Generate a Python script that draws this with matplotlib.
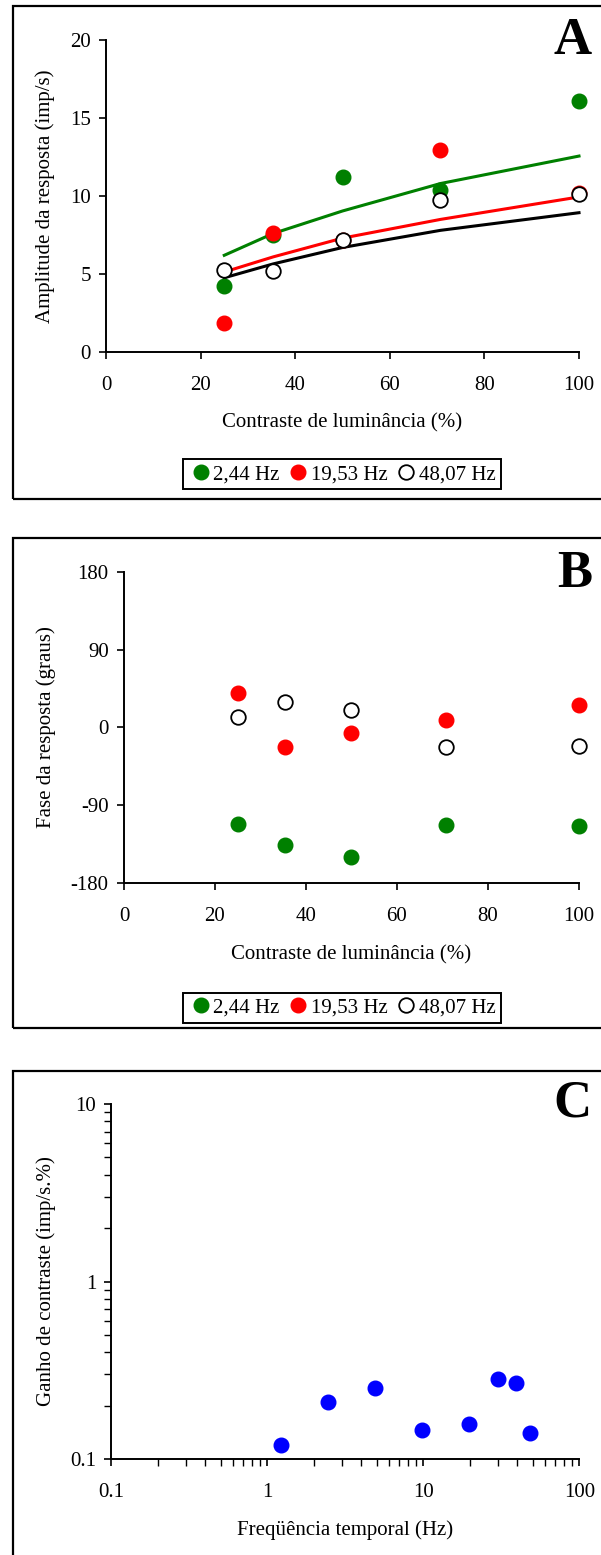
import numpy as np
import matplotlib
matplotlib.use("Agg")
import matplotlib.pyplot as plt
from matplotlib.patches import Rectangle
from matplotlib.lines import Line2D

plt.rcParams['font.family'] = ['Liberation Serif', 'DejaVu Serif']
plt.rcParams['axes.unicode_minus'] = False

# Contrastes usados (%)
contraste = [25, 35.36, 50, 70.71, 100]

# A: amplitude da resposta (imp/s)
amp_244 = [4.23, 7.52, 11.2, 10.4, 16.1]
amp_1953 = [1.84, 7.6, 7.2, 12.95, 10.2]
amp_4807 = [5.23, 5.19, 7.15, 9.77, 10.1]
# curvas ajustadas
ajuste_244 = [6.2, 7.6, 9.04, 10.8, 12.56]
ajuste_1953 = [5.13, 6.1, 7.3, 8.5, 9.94]
ajuste_4807 = [4.76, 5.65, 6.7, 7.8, 8.93]

# B: fase da resposta (graus)
fase_244 = [-112, -136, -150, -113, -114]
fase_1953 = [40, -23, -7, 9, 26]
fase_4807 = [12, 29, 20, -23, -21]

# C: ganho de contraste por frequência temporal
freq = [1.22, 2.44, 4.88, 9.77, 19.53, 30.1, 39.06, 48.07]
ganho = [0.12, 0.21, 0.252, 0.146, 0.157, 0.282, 0.267, 0.14]

verde = '#008000'
vermelho = '#ff0000'
azul = '#0000ff'
FS = 15
MS = 10.5

fig = plt.figure(figsize=(6.01, 15.55), dpi=100)

# molduras de cada painel
for (y0, y1) in [(0.679, 0.9961), (0.339, 0.654), (-0.05, 0.3113)]:
    fig.patches.append(Rectangle((0.021, y0), 1.0, y1 - y0, transform=fig.transFigure,
                                 fill=False, edgecolor='black', linewidth=1.6))


def estilo(ax):
    ax.spines['top'].set_visible(False)
    ax.spines['right'].set_visible(False)
    for s in ['left', 'bottom']:
        ax.spines[s].set_linewidth(1.4)
    ax.tick_params(axis='both', which='major', direction='out', length=5, width=1.2, labelsize=FS)
    ax.tick_params(axis='x', pad=12)
    ax.tick_params(axis='y', pad=6)


def legenda(ax, y):
    h = [Line2D([], [], marker='o', ls='none', color=verde, ms=MS),
         Line2D([], [], marker='o', ls='none', color=vermelho, ms=MS),
         Line2D([], [], marker='o', ls='none', mfc='white', mec='black', mew=1.3, ms=MS)]
    leg = fig.legend(h, ['2,44 Hz', '19,53 Hz', '48,07 Hz'], loc='center',
                     bbox_to_anchor=(0.569, y), ncol=3, fontsize=FS, frameon=True,
                     fancybox=False, framealpha=1, edgecolor='black',
                     handletextpad=0.0, columnspacing=0.3, handlelength=1.2,
                     borderpad=0.25, borderaxespad=0)
    leg.get_frame().set_linewidth(1.4)


# Painel A
axA = fig.add_axes([0.1764, 0.7736, 0.787, 0.2007])
axA.plot(contraste, ajuste_244, color=verde, lw=2.2, zorder=2)
axA.plot(contraste, ajuste_1953, color=vermelho, lw=2.2, zorder=2)
axA.plot(contraste, ajuste_4807, color='black', lw=2.2, zorder=2)
axA.plot(contraste, amp_244, 'o', color=verde, ms=MS, zorder=3)
axA.plot(contraste, amp_1953, 'o', color=vermelho, ms=MS, zorder=3)
axA.plot(contraste, amp_4807, 'o', mfc='white', mec='black', mew=1.3, ms=MS, zorder=4)
axA.set_xlim(0, 100)
axA.set_ylim(0, 20)
axA.set_xticks(range(0, 101, 20))
axA.set_yticks(range(0, 21, 5))
estilo(axA)
axA.set_xlabel('Contraste de luminância (%)', fontsize=FS)
axA.set_ylabel('Amplitude da resposta (imp/s)', fontsize=FS)
axA.xaxis.set_label_coords(0.5, -0.195)
axA.yaxis.set_label_coords(-0.107, 0.5)
for l in axA.lines:
    l.set_clip_on(False)
fig.text(0.985, 0.9735, 'A', fontsize=38, fontweight='bold', ha='right', va='center')
legenda(axA, 0.6949)

# Painel B
axB = fig.add_axes([0.2063, 0.4322, 0.757, 0.2])
axB.plot(contraste, fase_244, 'o', color=verde, ms=MS, clip_on=False)
axB.plot(contraste, fase_1953, 'o', color=vermelho, ms=MS, clip_on=False)
axB.plot(contraste, fase_4807, 'o', mfc='white', mec='black', mew=1.3, ms=MS, clip_on=False)
axB.set_xlim(0, 100)
axB.set_ylim(-180, 180)
axB.set_xticks(range(0, 101, 20))
axB.set_yticks([-180, -90, 0, 90, 180])
estilo(axB)
axB.set_xlabel('Contraste de luminância (%)', fontsize=FS)
axB.set_ylabel('Fase da resposta (graus)', fontsize=FS)
axB.xaxis.set_label_coords(0.5, -0.199)
axB.yaxis.set_label_coords(-0.150, 0.5)
fig.text(0.985, 0.631, 'B', fontsize=38, fontweight='bold', ha='right', va='center')
legenda(axB, 0.3518)

# Painel C
axC = fig.add_axes([0.1855, 0.0617, 0.7787, 0.2283])
axC.plot(freq, ganho, 'o', color=azul, ms=MS, clip_on=False)
axC.set_xscale('log')
axC.set_yscale('log')
axC.set_xlim(0.1, 100)
axC.set_ylim(0.1, 10)
axC.set_xticks([0.1, 1, 10, 100])
axC.set_xticklabels(['0.1', '1', '10', '100'])
axC.set_yticks([0.1, 1, 10])
axC.set_yticklabels(['0.1', '1', '10'])
estilo(axC)
axC.tick_params(which='minor', direction='out', length=5, width=1.0)
axC.tick_params(axis='x', which='minor', labelbottom=False)
axC.tick_params(axis='y', which='minor', labelleft=False)
axC.set_xlabel('Freqüência temporal (Hz)', fontsize=FS)
axC.set_ylabel('Ganho de contraste (imp/s.%)', fontsize=FS)
axC.xaxis.set_label_coords(0.5, -0.172)
axC.yaxis.set_label_coords(-0.119, 0.5)
fig.text(0.985, 0.2905, 'C', fontsize=38, fontweight='bold', ha='right', va='center')

fig.savefig('out.png', dpi=100)
